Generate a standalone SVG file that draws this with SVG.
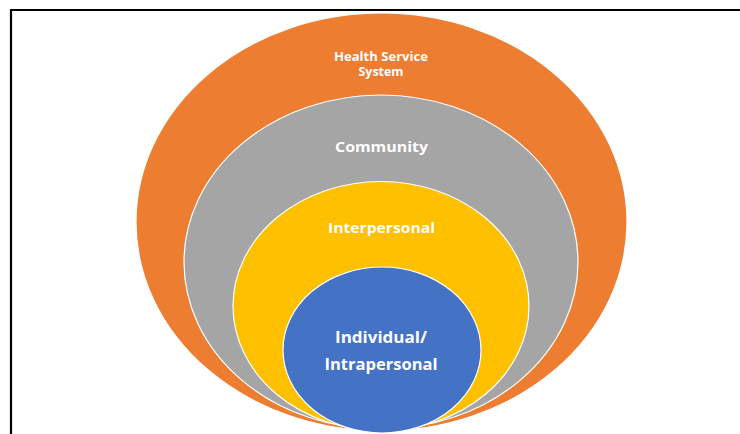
<svg xmlns="http://www.w3.org/2000/svg" width="740" height="434" viewBox="0 0 740 434">
<style>
.ring{stroke:#ffffff;stroke-width:1.2}
.lbl{font-family:"Open Sans","Liberation Sans",sans-serif;font-weight:bold;fill:#ffffff;text-anchor:middle}
</style>
<rect x="0" y="0" width="740" height="434" fill="#ffffff"/>
<path d="M11 434 V10 H740" fill="none" stroke="#000000" stroke-width="2.2"/>
<g id="health-service-system">
<ellipse class="ring" cx="381.5" cy="222" rx="245.5" ry="209" fill="#ED7D31"/>
<text class="lbl" x="381" y="60.5" font-size="11.5" textLength="94" lengthAdjust="spacingAndGlyphs">Health Service</text>
<text class="lbl" x="381" y="75.5" font-size="11.5" textLength="45" lengthAdjust="spacingAndGlyphs">System</text>
</g>
<g id="community">
<ellipse class="ring" cx="381" cy="262" rx="197" ry="167" fill="#A5A5A5"/>
<text class="lbl" x="381.5" y="152" font-size="14.5" textLength="93" lengthAdjust="spacingAndGlyphs">Community</text>
</g>
<g id="interpersonal">
<ellipse class="ring" cx="381" cy="306" rx="148" ry="124.5" fill="#FFC000"/>
<text class="lbl" x="381.5" y="233" font-size="15" textLength="107" lengthAdjust="spacingAndGlyphs">Interpersonal</text>
</g>
<g id="individual-intrapersonal">
<ellipse class="ring" cx="382" cy="350" rx="99" ry="83" fill="#4472C4"/>
<text class="lbl" x="381" y="343" font-size="16" textLength="92" lengthAdjust="spacingAndGlyphs">Individual/</text>
<text class="lbl" x="381" y="370" font-size="16" textLength="113" lengthAdjust="spacingAndGlyphs">Intrapersonal</text>
</g>
</svg>
